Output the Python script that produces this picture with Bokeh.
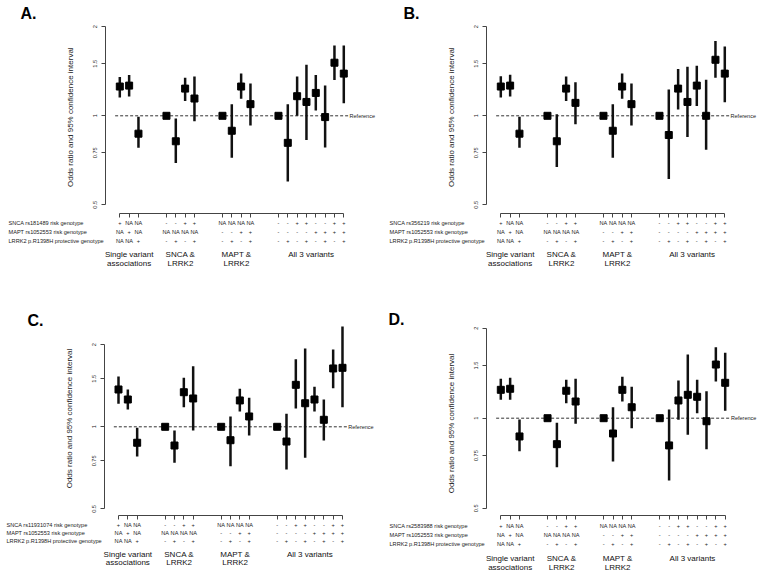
import math
from bokeh.plotting import figure
from bokeh.models import Range1d, FixedTicker, LinearScale, PrintfTickFormatter, CustomJSTickFormatter
from bokeh.layouts import gridplot
from bokeh.embed import file_html
from bokeh.resources import INLINE
from bokeh.core.properties import value

# ---------------- data ----------------
positions = [1, 2, 3, 6, 7, 8, 9, 12, 13, 14, 15, 18, 19, 20, 21, 22, 23, 24, 25]
group_labels = ["Single variant\nassociations", "SNCA &\nLRRK2", "MAPT &\nLRRK2", "All 3 variants"]
group_centers = [2, 7.5, 13.5, 21.5]
y_ticks = [0.5, 0.75, 1, 1.5, 2]
y_title = "Odds ratio and 95% confidence interval"
ref_value = 1.0
ref_label = "Reference"

snca_labels = {
    "A": "SNCA rs181489 risk genotype",
    "B": "SNCA rs356219 risk genotype",
    "C": "SNCA rs11931074 risk genotype",
    "D": "SNCA rs2583988 risk genotype",
}
mapt_label = "MAPT rs1052553 risk genotype"
lrrk2_label = "LRRK2 p.R1398H protective genotype"

snca_row = ["+", "NA", "NA", "-", "-", "+", "+", "NA", "NA", "NA", "NA", "-", "-", "+", "+", "-", "-", "+", "+"]
mapt_row = ["NA", "+", "NA", "NA", "NA", "NA", "NA", "-", "-", "+", "+", "-", "-", "-", "-", "+", "+", "+", "+"]
lrrk2_row = ["NA", "NA", "+", "-", "+", "-", "+", "-", "+", "-", "+", "-", "+", "-", "+", "-", "+", "-", "+"]

or_a = [1.256, 1.265, 0.870, 1.0, 0.820, 1.236, 1.144, 1.0, 0.890, 1.256, 1.095, 1.0, 0.810, 1.165, 1.114, 1.195, 0.990, 1.512, 1.389]
lo_a = [1.153, 1.162, 0.779, 1.0, 0.692, 1.123, 0.958, 1.0, 0.721, 1.141, 0.928, 1.0, 0.600, 1.000, 0.829, 1.043, 0.781, 1.321, 1.103]
hi_a = [1.352, 1.373, 0.992, 1.0, 0.980, 1.346, 1.357, 1.0, 1.095, 1.389, 1.285, 1.0, 1.095, 1.357, 1.489, 1.373, 1.265, 1.728, 1.728]

or_b = [1.256, 1.265, 0.870, 1.0, 0.820, 1.236, 1.106, 1.0, 0.890, 1.256, 1.095, 1.0, 0.861, 1.236, 1.114, 1.265, 1.000, 1.547, 1.389]
lo_b = [1.153, 1.162, 0.779, 1.0, 0.671, 1.123, 0.936, 1.0, 0.721, 1.141, 0.928, 1.0, 0.611, 1.051, 0.848, 1.080, 0.767, 1.346, 1.112]
hi_b = [1.360, 1.378, 0.992, 1.0, 1.013, 1.357, 1.298, 1.0, 1.095, 1.389, 1.285, 1.0, 1.227, 1.439, 1.466, 1.477, 1.325, 1.792, 1.715]

or_c = [1.370, 1.259, 0.874, 1.0, 0.854, 1.339, 1.270, 1.0, 0.893, 1.249, 1.091, 1.0, 0.883, 1.425, 1.220, 1.259, 1.061, 1.636, 1.645]
lo_c = [1.214, 1.157, 0.778, 1.0, 0.738, 1.180, 0.969, 1.0, 0.717, 1.138, 0.929, 1.0, 0.698, 1.167, 0.770, 1.138, 0.891, 1.385, 1.180]
hi_c = [1.529, 1.370, 0.992, 1.0, 0.969, 1.512, 1.668, 1.0, 1.091, 1.378, 1.277, 1.0, 1.116, 1.769, 1.936, 1.402, 1.259, 1.920, 2.331]

or_d = [1.244, 1.254, 0.869, 1.0, 0.819, 1.235, 1.137, 1.0, 0.889, 1.244, 1.088, 1.0, 0.811, 1.146, 1.197, 1.179, 0.977, 1.511, 1.313]
lo_d = [1.152, 1.152, 0.776, 1.0, 0.686, 1.122, 0.958, 1.0, 0.717, 1.137, 0.926, 1.0, 0.619, 0.988, 0.880, 1.039, 0.788, 1.326, 1.058]
hi_d = [1.354, 1.364, 0.990, 1.0, 0.965, 1.344, 1.354, 1.0, 1.088, 1.375, 1.273, 1.0, 1.069, 1.336, 1.632, 1.344, 1.231, 1.726, 1.654]

series = {"A": (or_a, lo_a, hi_a), "B": (or_b, lo_b, hi_b), "C": (or_c, lo_c, hi_c), "D": (or_d, lo_d, hi_d)}

# ---------------- layout (page pixels) ----------------
W, H = 381, 288
FONT_NAME = "Liberation Sans"
FONT = value(FONT_NAME)
layout = {
    "A": dict(ox=0, oy=0, idx1=119.3, step=9.333, axis_x=105.0, y_one=115.3, k=128.4,
              letter=(20, 13), title_y=116.7, tab_axis=212.6, rows=(222.7, 231.7, 240.7),
              glines=(254, 263), row_x=8),
    "B": dict(ox=381, oy=0, idx1=500.3, step=9.333, axis_x=486.0, y_one=115.3, k=128.4,
              letter=(403, 13), title_y=116.7, tab_axis=212.6, rows=(222.7, 231.7, 240.7),
              glines=(254, 263), row_x=389),
    "C": dict(ox=0, oy=288, idx1=118.0, step=9.333, axis_x=103.5, y_one=426.3, k=118.5,
              letter=(27, 319.5), title_y=418, tab_axis=515.0, rows=(524.0, 532.3, 540.3),
              glines=(554, 562), row_x=6),
    "D": dict(ox=381, oy=288, idx1=500.3, step=9.35, axis_x=486.0, y_one=417.7, k=130.0,
              letter=(388, 319), title_y=423, tab_axis=514.8, rows=(525.0, 534.2, 543.2),
              glines=(558, 567), row_x=389),
}


def make_panel(name):
    L = layout[name]
    ors, los, his = series[name]
    ox, oy = L["ox"], L["oy"]
    i1 = L["idx1"] - ox
    step = L["step"]
    x_start = 1 - i1 / step
    x_end = 1 + (W - i1) / step
    y1 = L["y_one"] - oy
    k = L["k"]
    y_top = math.exp(y1 / k)
    y_bot = math.exp((y1 - H) / k)

    def idx_at(px_local):
        return 1 + (px_local - i1) / step

    def or_at(py_local):
        return math.exp((y1 - py_local) / k)

    p = figure(width=W, height=H, x_range=Range1d(x_start, x_end), y_range=Range1d(y_bot, y_top),
               y_axis_type="log", output_backend="svg", toolbar_location=None, min_border=0,
               title=None)
    p.extra_x_ranges = {"px": Range1d(0, W)}
    p.extra_y_ranges = {"px": Range1d(H, 0)}
    p.extra_x_scales = {"px": LinearScale()}
    p.extra_y_scales = {"px": LinearScale()}
    p.grid.visible = False
    p.outline_line_color = None
    p.background_fill_color = "white"
    p.border_fill_color = "white"

    # y axis
    ya = p.yaxis[0]
    ya.fixed_location = idx_at(L["axis_x"] - ox)
    ya.bounds = (min(y_ticks), max(y_ticks))
    ya.ticker = FixedTicker(ticks=y_ticks, minor_ticks=[])
    ya.formatter = PrintfTickFormatter(format="%g")
    ya.major_label_orientation = "vertical"
    ya.major_label_text_font = FONT_NAME
    ya.major_label_text_font_size = "5.6px"
    ya.major_label_text_color = "#222222"
    ya.major_label_standoff = 4
    ya.major_tick_out = 4
    ya.major_tick_in = 0
    ya.minor_tick_out = 0
    ya.minor_tick_in = 0
    ya.axis_line_color = "#444444"
    ya.major_tick_line_color = "#444444"

    # x axis (genotype table ticks)
    xa = p.xaxis[0]
    xa.fixed_location = or_at(L["tab_axis"] - oy)
    xa.bounds = (positions[0], positions[-1])
    xa.ticker = FixedTicker(ticks=positions, minor_ticks=[])
    xa.formatter = CustomJSTickFormatter(code="return ''")
    xa.major_tick_out = 4
    xa.major_tick_in = 0
    xa.minor_tick_out = 0
    xa.minor_tick_in = 0
    xa.axis_line_color = "#444444"
    xa.major_tick_line_color = "#444444"

    # reference line + label
    p.segment(x0=[positions[0] - 0.5], y0=[ref_value], x1=[positions[-1] + 0.5], y1=[ref_value],
              line_color="#333333", line_width=1, line_dash="3 2")
    p.text(x=[positions[-1] + 0.62], y=[ref_value], text=[ref_label], text_font=FONT,
           text_font_size="5.5px", text_align="left", text_baseline="middle", text_color="#222222")

    # CIs and points
    p.segment(x0=positions, y0=los, x1=positions, y1=his, line_color="#111111", line_width=2.5)
    p.scatter(x=positions, y=ors, marker="square", size=7, fill_color="#000000", line_color="#000000")

    # panel letter
    lx, ly = L["letter"]
    p.text(x=[lx - ox], y=[ly - oy], text=[name + "."], text_font=FONT,
           text_font_style="bold", text_font_size="16px", text_align="left", text_baseline="middle",
           text_color="#000000", x_range_name="px", y_range_name="px")

    # y title
    p.text(x=[L["axis_x"] - 35 - ox], y=[L["title_y"] - oy], text=[y_title], angle=math.pi / 2,
           text_font=FONT, text_font_size="8px", text_align="center", text_baseline="middle",
           text_color="#222222", x_range_name="px", y_range_name="px")

    # table row labels
    row_labels = [snca_labels[name], mapt_label, lrrk2_label]
    p.text(x=[L["row_x"] - ox] * 3, y=[r - oy for r in L["rows"]], text=row_labels, text_font=FONT,
           text_font_size="5.6px", text_align="left", text_baseline="middle", text_color="#222222",
           x_range_name="px", y_range_name="px")

    # table cells
    for row_vals, ry in zip([snca_row, mapt_row, lrrk2_row], L["rows"]):
        p.text(x=positions, y=[ry - oy] * len(positions), text=row_vals, text_font=FONT,
               text_font_size="5.6px", text_align="center", text_baseline="middle",
               text_color="#222222", y_range_name="px")

    # group labels
    for gl, gc in zip(group_labels, group_centers):
        for li, line in enumerate(gl.split("\n")):
            p.text(x=[gc], y=[L["glines"][li] - oy], text=[line], text_font=FONT,
                   text_font_size="8px", text_align="center", text_baseline="middle",
                   text_color="#111111", y_range_name="px")
    return p


panels = [make_panel(n) for n in ["A", "B", "C", "D"]]
grid = gridplot([[panels[0], panels[1]], [panels[2], panels[3]]], toolbar_location=None)

open("out.html", "w").write(file_html(grid, INLINE))
